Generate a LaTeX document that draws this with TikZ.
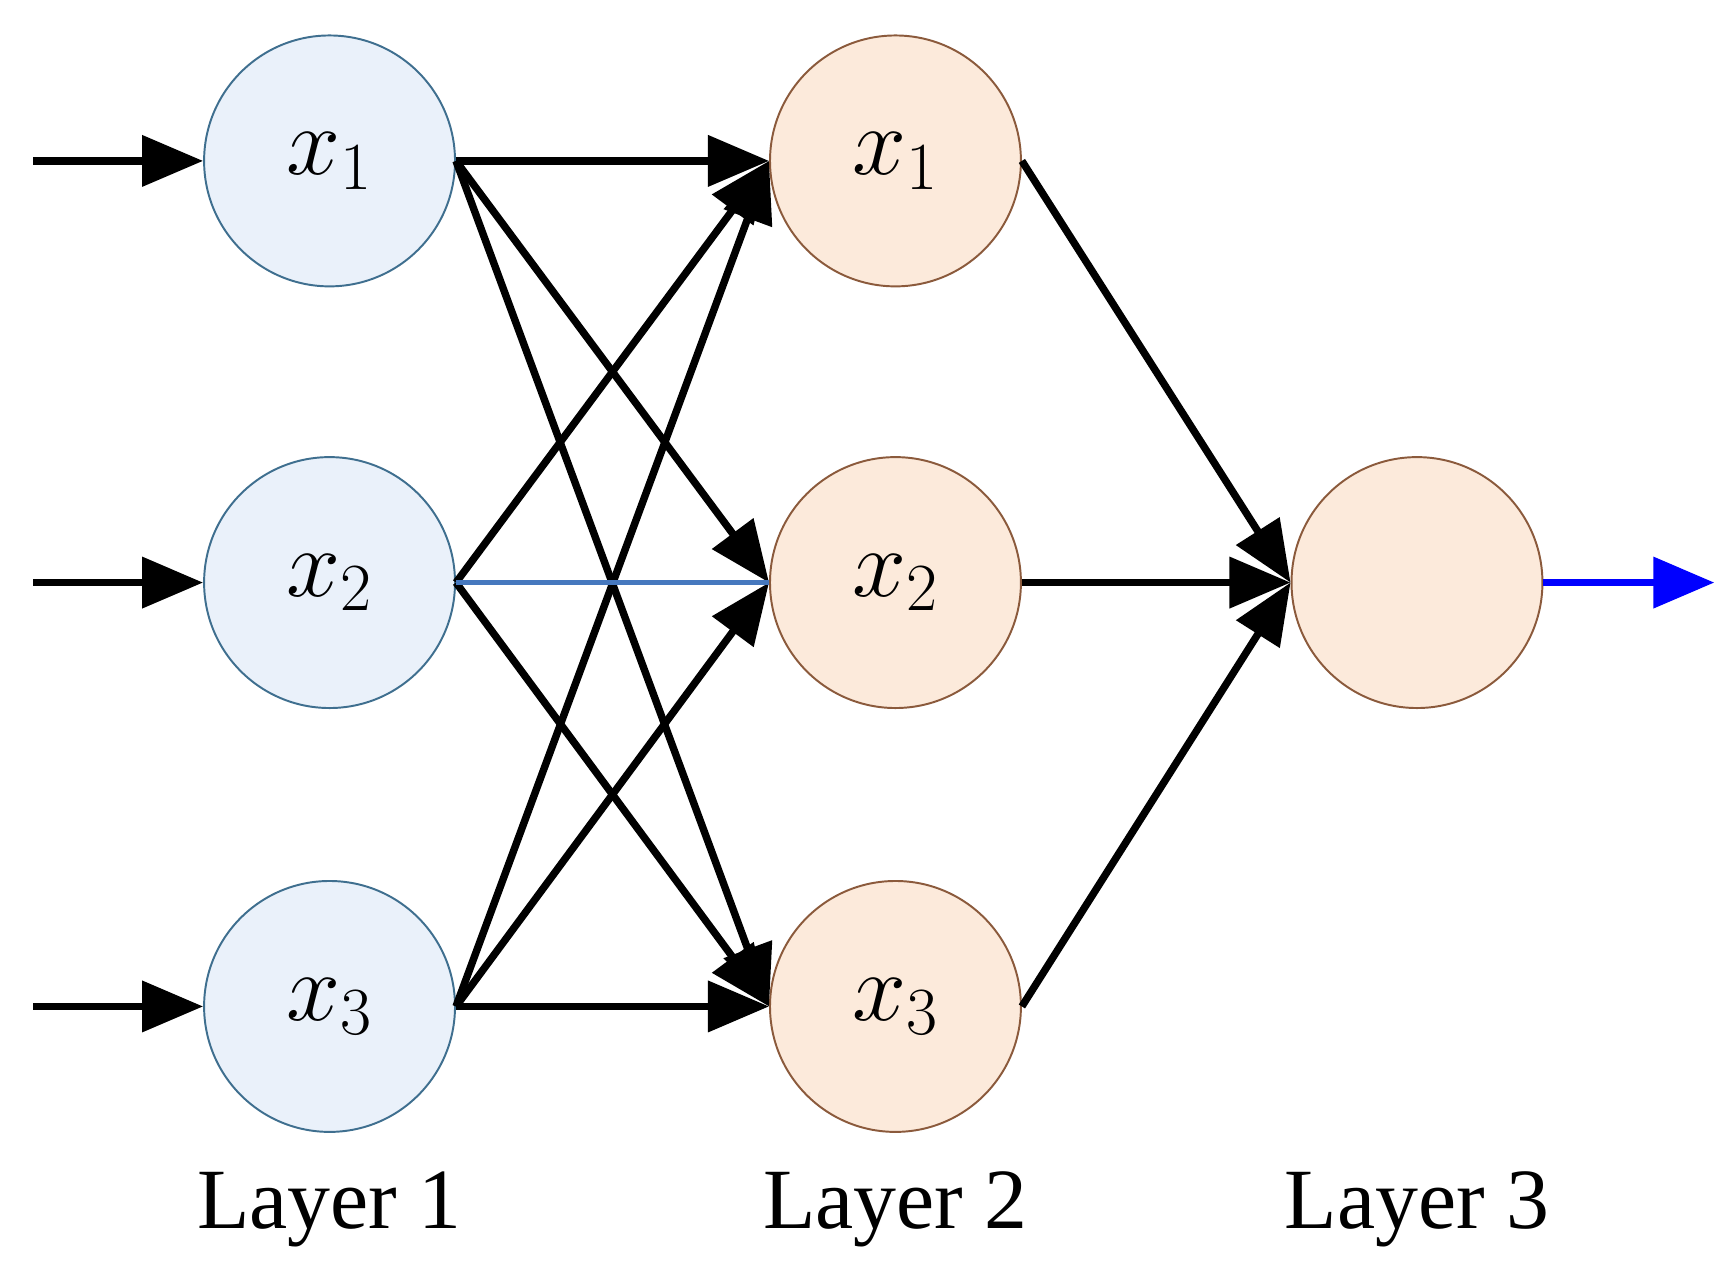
\documentclass[tikz,border=0pt]{standalone}
\usepackage{fontspec}
\setmainfont{Liberation Serif}
\usetikzlibrary{arrows.meta}
\definecolor{bfill}{HTML}{EAF1FA}
\definecolor{bdraw}{HTML}{3F6F8F}
\definecolor{ofill}{HTML}{FCEADB}
\definecolor{odraw}{HTML}{8B5A3C}
\begin{document}
\begin{tikzpicture}[x=0.01cm,y=-0.01cm,
  neuronA/.style={circle,minimum size=2.26cm,inner sep=0pt,fill=bfill,draw=bdraw,line width=0.5pt,font=\fontsize{24}{28}\selectfont},
  neuronB/.style={neuronA,fill=ofill,draw=odraw},
  conn/.style={line width=1.9pt,-{Triangle[length=0.55cm,width=0.45cm]}},
  lab/.style={font=\fontsize{22}{26}\selectfont}]
\useasboundingbox (0,0) rectangle (1560,1150);
\foreach \i/\y in {1/145,2/525,3/907}{
  \node[neuronA] (a\i) at (297,\y) {$x_{\i}$};
  \node[neuronB] (b\i) at (807,\y) {$x_{\i}$};
  \coordinate (in\i) at (30,\y);
  \draw[conn] (in\i) -- (a\i.west);
}
\node[neuronB] (c) at (1277,525) {};
\coordinate (out) at (1545,525);
\foreach \i in {1,2,3}{\foreach \j in {1,2,3}{
  \ifnum\i=2 \ifnum\j=2 \else \draw[conn] (a\i.east) -- (b\j.west); \fi
  \else \draw[conn] (a\i.east) -- (b\j.west); \fi }}
\draw[line width=1.5pt,color={rgb,255:red,70;green,120;blue,190}] (a2.east) -- (b2.west);
\foreach \j in {1,2,3}{\draw[conn] (b\j.east) -- (c.west);}
\draw[conn,blue] (c.east) -- (out);
\node[lab] (l1) at (297,1090) {Layer 1};
\node[lab] (l2) at (807,1090) {Layer 2};
\node[lab] (l3) at (1277,1090) {Layer 3};
\end{tikzpicture}
\end{document}
